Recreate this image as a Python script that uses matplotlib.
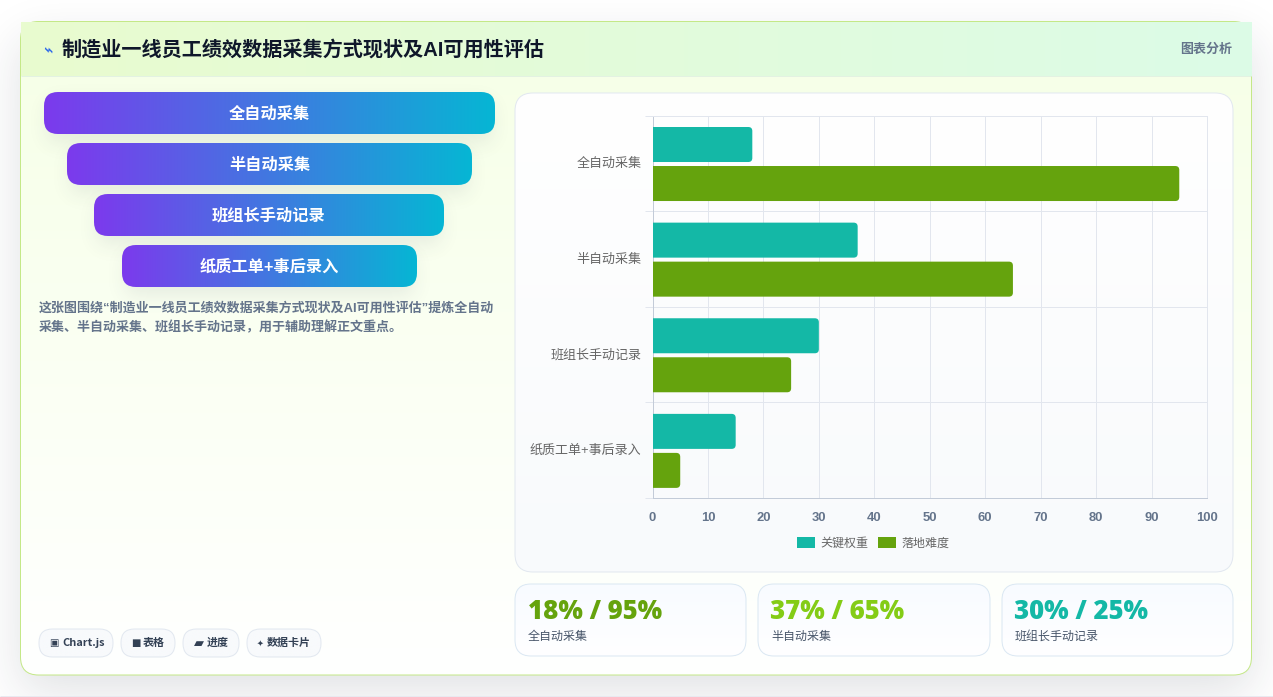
import math
import numpy as np
import matplotlib
matplotlib.use('Agg')
import matplotlib.pyplot as plt
from matplotlib.patches import FancyBboxPatch, Patch
from matplotlib.colors import to_rgb
from matplotlib.transforms import ScaledTranslation

W, H = 1273, 697
CJK = ['Liberation Sans', 'Noto Sans CJK SC', 'DejaVu Sans']
CHIP_FONT = ['Noto Sans CJK SC', 'DejaVu Sans']

categories = ['全自动采集', '半自动采集', '班组长手动记录', '纸质工单+事后录入']
weight_values = [18, 37, 30, 15]
difficulty_values = [95, 65, 25, 5]
series_names = ['关键权重', '落地难度']
x_ticks = [0, 10, 20, 30, 40, 50, 60, 70, 80, 90, 100]

title = '制造业一线员工绩效数据采集方式现状及AI可用性评估'
badge = '图表分析'
desc_lines = ['这张图围绕“制造业一线员工绩效数据采集方式现状及AI可用性评估”提炼全自动',
              '采集、半自动采集、班组长手动记录，用于辅助理解正文重点。']
chips = [('▣', 'Chart.js'), ('■', '表格'), ('▰', '进度'), ('✦', '数据卡片')]
stat_values = ['18% / 95%', '37% / 65%', '30% / 25%']
stat_names = ['全自动采集', '半自动采集', '班组长手动记录']
stat_colors = ['#65a30d', '#84cc16', '#14b8a6']

TEAL = '#14b8a6'
GREEN = '#65a30d'
GRID = '#e2e6ee'
LINE = 0.72


def px(size):
    return size * 0.72


fig = plt.figure(figsize=(W / 100, H / 100), dpi=100, facecolor='white')
bg = fig.add_axes([0, 0, 1, 1], zorder=0)
bg.set_xlim(0, W)
bg.set_ylim(H, 0)
bg.set_autoscale_on(False)
bg.axis('off')

erf = np.vectorize(math.erf)


def soft_shadow(x0, y0, x1, y1, sigma, alpha, color='#0f172a', z=1):
    # blurred rectangle, evaluated on a window around the box
    pad = int(sigma * 3)
    xs = np.arange(x0 - pad, x1 + pad) + 0.5
    ys = np.arange(y0 - pad, y1 + pad) + 0.5
    fx = 0.5 * (erf((xs - x0) / (sigma * 1.414)) - erf((xs - x1) / (sigma * 1.414)))
    fy = 0.5 * (erf((ys - y0) / (sigma * 1.414)) - erf((ys - y1) / (sigma * 1.414)))
    img = np.zeros((len(ys), len(xs), 4))
    img[..., :3] = to_rgb(color)
    img[..., 3] = alpha * np.outer(fy, fx)
    bg.imshow(img, extent=(x0 - pad, x1 + pad, y1 + pad, y0 - pad), origin='upper',
              aspect='auto', zorder=z, interpolation='bilinear')


def gradient_box(x0, y0, x1, y1, radius, c0, c1, horizontal=True, edge=None, z=2):
    box = FancyBboxPatch((x0, y0), x1 - x0, y1 - y0,
                         boxstyle=f'round,pad=0,rounding_size={radius}',
                         facecolor='none', edgecolor='none', zorder=z)
    bg.add_patch(box)
    t = np.linspace(0, 1, 256)
    ramp = np.outer(1 - t, to_rgb(c0)) + np.outer(t, to_rgb(c1))
    grad = ramp[np.newaxis, :, :] if horizontal else ramp[:, np.newaxis, :]
    im = bg.imshow(grad, extent=(x0, x1, y1, y0), origin='upper', aspect='auto',
                   zorder=z, interpolation='bilinear')
    im.set_clip_path(box)
    if edge:
        bg.add_patch(FancyBboxPatch((x0, y0), x1 - x0, y1 - y0,
                                    boxstyle=f'round,pad=0,rounding_size={radius}',
                                    facecolor='none', edgecolor=edge, linewidth=LINE,
                                    zorder=z + 0.1))


# page and outer card
soft_shadow(20, 41, 1252, 691, 24, 0.14, color='#1e293b', z=1)
bg.hlines(696.3, 0, W, color='#e9e9f0', lw=LINE, zorder=1.5)
gradient_box(20.5, 21.5, 1251.5, 675, 18, '#f6ffe6', '#ffffff', horizontal=False, edge='#c4e888', z=2)

# header band
gradient_box(21, 22, 1252, 76, 0.1, '#e9fbcf', '#dcfce7', z=3)
bg.hlines(75.5, 21, 1251, color='#e3f2e2', lw=LINE, zorder=3.2)
bg.text(47.5, 50, '⌁', fontsize=px(17), color='#2563eb', ha='center', va='center',
        family='DejaVu Sans', rotation=-15, zorder=4)
bg.text(62, 49.5, title, fontsize=px(20.12), color='#0f172a', fontweight='bold', family=CJK,
        ha='left', va='center', zorder=4)
bg.text(1232, 49.5, badge, fontsize=px(13), color='#64748b', fontweight='bold', family=CJK,
        ha='right', va='center', zorder=4)

# funnel steps
funnel_boxes = [(44, 92, 495, 134), (67, 143, 472, 185), (94, 194, 444, 236), (122, 245, 417, 287)]
for (x0, y0, x1, y1), name in zip(funnel_boxes, categories):
    soft_shadow(x0 + 4, y0 + 10, x1 - 4, y1 + 8, 10, 0.10, color='#334155', z=2.5)
    gradient_box(x0, y0, x1, y1, 14, '#7c3aed', '#06b6d4', z=3)
    bg.text((x0 + x1) / 2, (y0 + y1) / 2 + 1, name, fontsize=px(16.2), color='white', fontweight='bold',
            family=CJK, ha='center', va='center', zorder=4)

for i, line in enumerate(desc_lines):
    bg.text(39, 308 + i * 20, line, fontsize=px(13), color='#64748b', fontweight='bold',
            family=CJK, ha='left', va='center', zorder=4)

# chips under the description
chip_boxes = [(39, 113, 53.5, 62, 10), (121, 175, 135.5, 143, 10), (183, 239, 199, 207, 13), (247, 321, 260.5, 267, 8)]
for (x0, x1, icon_x, text_x, icon_size), (icon, label) in zip(chip_boxes, chips):
    gradient_box(x0, 629, x1, 657, 13.5, '#f8fafc', '#f8fafc', edge='#e2e8f0', z=3)
    bg.text(icon_x, 643, icon, fontsize=px(icon_size), color='#334155', family='DejaVu Sans',
            ha='center', va='center', zorder=4)
    bg.text(text_x, 643, label, fontsize=px(11), color='#334155', fontweight='bold',
            family=CHIP_FONT, ha='left', va='center', zorder=4)

# panel behind the bar chart
gradient_box(515, 93, 1233, 572, 18, '#ffffff', '#f8fafc', horizontal=False, edge='#e2e8f0', z=3)

# stat cards
stat_boxes = [(515, 746), (758, 990), (1002, 1233)]
for (x0, x1), val, name, col in zip(stat_boxes, stat_values, stat_names, stat_colors):
    gradient_box(x0, 584, x1, 656, 16, '#f8fbff', '#ffffff', horizontal=False, edge='#dbe8f3', z=3)
    bg.text(x0 + 12.5, 612, val, fontsize=px(25.7), color=col, fontweight='heavy', family='Open Sans',
            ha='left', va='center', zorder=4)
    bg.text(x0 + 13, 636.5, name, fontsize=px(12), color='#475569', fontweight='medium', family=CJK,
            ha='left', va='center', zorder=4)

# grouped horizontal bars
ax = fig.add_axes([652.5 / W, 1 - 498 / H, 554.5 / W, 382.5 / H], zorder=1)
ax.patch.set_visible(False)
ax.set_xlim(0, 100)
ax.set_ylim(3.5, -0.5)
ax.set_axisbelow(True)

bar_h = 35 / 95.6
offset = 19.5 / 95.6
shift = 0.7 / 95.6
r_x = 4 / 5.54
r_y = 4 / 95.6


def rounded_bar(value, center, color):
    # starts left of the axis so only the right-hand corners show rounded
    ax.add_patch(FancyBboxPatch((-2, center - bar_h / 2 + shift), value + 2, bar_h,
                                boxstyle=f'round,pad=0,rounding_size={r_x}',
                                mutation_aspect=r_y / r_x, facecolor=color,
                                edgecolor='none', zorder=3))


for i, (a, b) in enumerate(zip(weight_values, difficulty_values)):
    rounded_bar(a, i - offset, TEAL)
    rounded_bar(b, i + offset, GREEN)

ax.set_xticks(x_ticks)
ax.set_yticks(range(len(categories)))
ax.set_yticklabels(categories, fontsize=px(13), color='#666666', family=CJK)
ax.set_yticks(np.arange(-0.5, 4), minor=True)
ax.tick_params(axis='y', which='major', length=0, pad=px(11))
ax.tick_params(axis='y', which='minor', length=px(8), width=LINE, color=GRID)
ax.tick_params(axis='x', length=0, pad=px(14))
for lab in ax.get_xticklabels():
    lab.set_fontsize(px(13))
    lab.set_fontweight('bold')
    lab.set_color('#64748b')
    lab.set_family('Liberation Sans')
# nudge the category labels up a little
nudge = ScaledTranslation(0, 1.0 / 100, fig.dpi_scale_trans)
for lab in ax.get_yticklabels():
    lab.set_transform(lab.get_transform() + nudge)
ax.grid(axis='x', color=GRID, lw=LINE)
ax.grid(axis='y', which='minor', color=GRID, lw=LINE)
for side in ['top', 'right']:
    ax.spines[side].set_color(GRID)
    ax.spines[side].set_linewidth(LINE)
for side in ['left', 'bottom']:
    ax.spines[side].set_color('#c3cbd8')
    ax.spines[side].set_linewidth(LINE)

handles = [Patch(facecolor=TEAL, label=series_names[0]), Patch(facecolor=GREEN, label=series_names[1])]
leg = ax.legend(handles=handles, loc='center', bbox_to_anchor=(0.398, -0.1175), ncol=2, frameon=False,
                prop={'family': CHIP_FONT, 'size': px(12)}, handlelength=1.5, handleheight=1.0,
                handletextpad=0.42, columnspacing=0.83, borderpad=0, borderaxespad=0)
for t in leg.get_texts():
    t.set_color('#666666')

fig.savefig('out.png', dpi=100)
